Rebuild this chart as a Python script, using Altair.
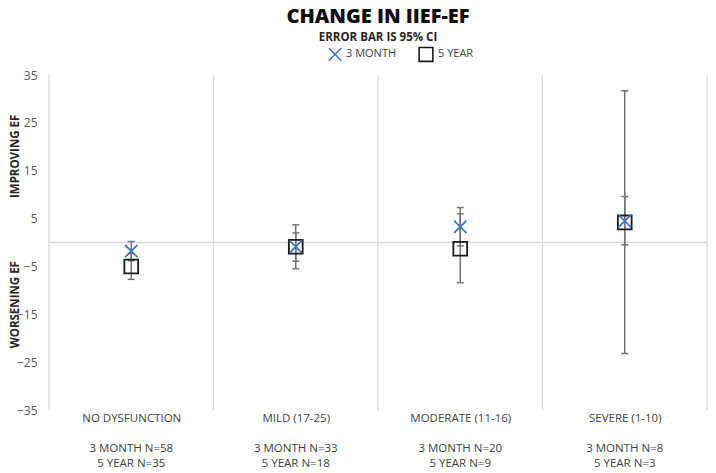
import altair as alt
import pandas as pd

categories = ["NO DYSFUNCTION", "MILD (17-25)", "MODERATE (11-16)", "SEVERE (1-10)"]
n_3month = [58, 33, 20, 8]
n_5year = [35, 18, 9, 3]
series = ["3 MONTH", "5 YEAR"]
mean_3month = [-1.8, -0.9, 3.3, 4.5]
low_3month = [-3.8, -3.9, -0.7, -0.5]
high_3month = [0.2, 2.0, 7.3, 9.6]
mean_5year = [-5.0, -0.9, -1.3, 4.2]
low_5year = [-7.7, -5.5, -8.4, -23.2]
high_5year = [-2.3, 3.7, 6.0, 31.7]
y_ticks = [35, 25, 15, 5, -5, -15, -25, -35]
side_titles = ["IMPROVING EF", "WORSENING EF"]
side_title_pos = [18, -13]

idx = list(range(len(categories)))
rows = []
for i in idx:
    rows.append({"idx": i, "series": series[1], "mean": mean_5year[i], "lo": low_5year[i], "hi": high_5year[i]})
for i in idx:
    rows.append({"idx": i, "series": series[0], "mean": mean_3month[i], "lo": low_3month[i], "hi": high_3month[i]})
df = pd.DataFrame(rows)

ndf = pd.DataFrame({
    "idx": idx,
    "ntext": [f"3 MONTH N={a}|5 YEAR N={b}" for a, b in zip(n_3month, n_5year)],
})
bounds = pd.DataFrame({"b": [i - 0.5 for i in idx] + [len(idx) - 0.5]})

FONT = "Open Sans"
xpath = "M-1,-1L1,1M-1,1L1,-1"
GRID = "#d9d9d9"
BAR = "#737373"

label_js = "[" + ",".join("'" + c + "'" for c in categories) + "][datum.value]"

xscale = alt.Scale(domain=[-0.5, len(idx) - 0.5], nice=False, zero=False)
xaxis = alt.Axis(title=None, values=idx, labelExpr=label_js, grid=False, ticks=False, domain=False,
                 labelAngle=0, labelFont=FONT, labelFontSize=11.5, labelColor="#404040",
                 labelPadding=2, labelBaseline="top")
yscale = alt.Scale(domain=[-35, 35], nice=False, zero=False)
yaxis = alt.Axis(values=y_ticks, grid=False, ticks=False, domain=False, title=None,
                 labelPadding=12, labelColor="#595959", labelFontSize=12, labelFont=FONT)

X = alt.X("idx:Q", scale=xscale, axis=xaxis)

vgrid = alt.Chart(bounds).mark_rule(color=GRID, strokeWidth=1.3).encode(
    x=alt.X("b:Q", scale=xscale, axis=xaxis))
zero = alt.Chart(pd.DataFrame({"z": [0]})).mark_rule(color=GRID, strokeWidth=1.5).encode(
    y=alt.Y("z:Q", scale=yscale, axis=yaxis))

base = alt.Chart(df).encode(x=X)
bars = base.mark_rule(color=BAR, strokeWidth=1.5).encode(
    y=alt.Y("lo:Q", scale=yscale, axis=yaxis), y2="hi:Q")
cap_lo = base.mark_tick(orient="horizontal", size=7, thickness=1.5, color=BAR, opacity=1).encode(
    y=alt.Y("lo:Q", scale=yscale, axis=yaxis))
cap_hi = base.mark_tick(orient="horizontal", size=7, thickness=1.5, color=BAR, opacity=1).encode(
    y=alt.Y("hi:Q", scale=yscale, axis=yaxis))

leg = dict(title=None, orient="none", legendX=279, legendY=-29, direction="horizontal",
           columnPadding=18, symbolSize=90, symbolStrokeWidth=1.6, labelFontSize=11,
           labelFont=FONT, labelColor="#404040", padding=0, labelOffset=4)
points = base.mark_point(filled=False, strokeWidth=1.8, opacity=1).encode(
    y=alt.Y("mean:Q", scale=yscale, axis=yaxis),
    color=alt.Color("series:N", scale=alt.Scale(domain=series, range=["#4472c4", "#1a1a1a"]),
                    legend=alt.Legend(**leg)),
    shape=alt.Shape("series:N", scale=alt.Scale(domain=series, range=[xpath, "square"]),
                    legend=alt.Legend(**leg)),
    size=alt.Size("series:N", scale=alt.Scale(domain=series, range=[150, 190]), legend=None),
)

ntext = alt.Chart(ndf).mark_text(
    lineBreak="|", baseline="top", align="center", dy=33, fontSize=11.5, font=FONT,
    color="#404040", lineHeight=15
).encode(x=X, y=alt.Y(datum=-35, scale=yscale, axis=yaxis), text="ntext:N")

side = alt.Chart(pd.DataFrame({"t": side_titles, "v": side_title_pos})).mark_text(
    angle=270, fontWeight="bold", fontSize=11.5, font=FONT, color="#262626", baseline="middle", align="center"
).encode(y=alt.Y("v:Q", scale=yscale, axis=yaxis), x=alt.value(-33), text="t:N")

chart = alt.layer(vgrid, zero, bars, cap_lo, cap_hi, points, ntext, side).properties(
    width=658, height=335,
    autosize=alt.AutoSizeParams(type="none"),
    padding={"left": 41, "top": 67, "right": 1, "bottom": 63},
    title=alt.Title("CHANGE IN IIEF-EF", subtitle="ERROR BAR IS 95% CI", font=FONT, fontSize=20,
                    fontWeight=800, color="#0d0d0d", subtitleFont=FONT, subtitleFontSize=11.5,
                    subtitleFontWeight="bold", subtitleColor="#262626", anchor="middle",
                    offset=3, subtitlePadding=5),
).configure_view(stroke=None)

chart.save("out.html", embed_options={"renderer": "svg", "actions": False})
